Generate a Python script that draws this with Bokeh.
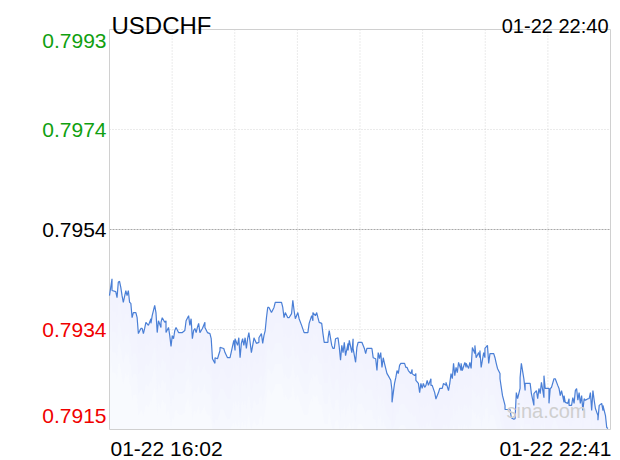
from bokeh.plotting import figure
from bokeh.models import Label, Range1d
from bokeh.embed import file_html
from bokeh.resources import INLINE

symbol = "USDCHF"
update_time = "01-22 22:40"
start_label = "01-22 16:02"
end_label = "01-22 22:41"
watermark = "sina.com"
session_len = 399          # minutes from 16:02 to 22:41
prev_close = 0.7954
y_ticks = [0.7915, 0.79345, 0.7954, 0.79735, 0.7993]
y_tick_labels = ["0.7915", "0.7934", "0.7954", "0.7974", "0.7993"]

minutes = [0, 2, 2, 5, 6, 7, 8, 9, 10, 11, 13, 14, 15, 16, 17, 18, 19, 21, 22, 23,
           25, 26, 27, 28, 29, 31, 33, 33, 34, 36, 37, 38, 39, 41, 41, 42, 44, 45, 45, 47,
           48, 49, 50, 51, 52, 53, 55, 58, 60, 61, 63, 64, 65, 66, 67, 68, 69, 70, 71, 72,
           74, 76, 76, 78, 80, 81, 82, 84, 84, 86, 88, 88, 91, 92, 94, 96,
           99, 100, 100, 102, 103, 104, 105, 106, 107, 108, 109, 110, 111, 112, 113, 115, 115, 117, 119, 119,
           121, 122, 123, 124, 125, 126, 127, 129, 131, 132, 137, 138, 139, 140, 142, 143, 145, 146, 147, 148,
           150, 151, 153, 155, 158, 159, 161, 162, 162, 164, 165, 166, 167, 169, 170, 171, 174, 174, 175, 177,
           178, 179, 180, 182, 183, 184, 185, 186, 187, 188, 190, 190, 191, 193, 194, 194, 196, 197, 198, 200,
           201, 203, 204, 205, 209, 210, 212, 213, 214, 215, 216, 217, 218, 219, 221, 222, 224, 225, 225, 227,
           228, 229, 230, 231, 232, 235, 236, 237, 238, 240, 241, 241, 243, 244, 244, 246, 247, 248, 249, 250,
           251, 252, 253, 254, 256, 256, 257, 259, 260, 260, 262, 263, 265, 266, 268, 268, 270, 271, 272, 273,
           274, 275, 276, 277, 278, 280, 280, 281, 283, 284, 284, 286, 287, 288, 289, 291, 291, 292, 294, 295,
           295, 296, 298, 299, 299, 301, 302, 303, 306, 307, 308, 309, 311, 311, 313, 315, 315, 319, 320, 322,
           323, 324, 325, 327, 327, 328, 330, 331, 331, 335, 336, 338, 338, 340, 341, 342, 343, 344, 346, 346,
           347, 350, 350, 351, 352, 354, 355, 357, 358, 359, 360, 362, 362, 363, 365, 366, 366, 368, 369, 370,
           371, 372, 373, 374, 375, 376, 377, 378, 379, 381, 382, 383, 384, 385, 386, 387, 389, 389, 390, 392,
           393, 393, 395, 396, 397]

prices = [0.79411, 0.79444, 0.79421, 0.79419, 0.79407, 0.79437, 0.79439, 0.79427, 0.79411, 0.79398,
          0.79421, 0.79411, 0.79421, 0.79398, 0.79396, 0.79368, 0.79378, 0.79378, 0.79368, 0.79337,
          0.79347, 0.79347, 0.79337, 0.79347, 0.79359, 0.79353, 0.79366, 0.79357, 0.79372, 0.79392,
          0.79378, 0.79339, 0.79362, 0.79349, 0.79359, 0.79368, 0.79359, 0.79362, 0.79339, 0.79349,
          0.79333, 0.79312, 0.79333, 0.79327, 0.79343, 0.79349, 0.79339, 0.79339, 0.79343, 0.79362,
          0.79372, 0.79353, 0.79366, 0.79327, 0.79343, 0.79347, 0.79339, 0.79349, 0.79357, 0.79339,
          0.79347, 0.79359, 0.79349, 0.79339, 0.79337, 0.79327, 0.79288, 0.79279, 0.79290, 0.79288,
          0.79304, 0.79310, 0.79308, 0.79300, 0.79290, 0.79290,
          0.79324, 0.79304, 0.79327, 0.79314, 0.79329, 0.79290, 0.79318, 0.79327, 0.79314, 0.79329,
          0.79308, 0.79327, 0.79339, 0.79320, 0.79300, 0.79327, 0.79329, 0.79318, 0.79320, 0.79329,
          0.79337, 0.79318, 0.79333, 0.79343, 0.79368, 0.79388, 0.79388, 0.79378, 0.79388, 0.79398,
          0.79398, 0.79388, 0.79368, 0.79378, 0.79368, 0.79368, 0.79376, 0.79402, 0.79382, 0.79366,
          0.79378, 0.79366, 0.79353, 0.79339, 0.79339, 0.79357, 0.79372, 0.79362, 0.79378, 0.79372,
          0.79378, 0.79368, 0.79359, 0.79357, 0.79337, 0.79320, 0.79320, 0.79327, 0.79343, 0.79314,
          0.79308, 0.79308, 0.79327, 0.79329, 0.79310, 0.79285, 0.79314, 0.79300, 0.79320, 0.79294,
          0.79318, 0.79304, 0.79324, 0.79300, 0.79327, 0.79308, 0.79281, 0.79310, 0.79320, 0.79320,
          0.79320, 0.79308, 0.79298, 0.79308, 0.79308, 0.79290, 0.79288, 0.79265, 0.79300, 0.79288,
          0.79300, 0.79271, 0.79290, 0.79279, 0.79259, 0.79255, 0.79246, 0.79226, 0.79203, 0.79240,
          0.79251, 0.79265, 0.79259, 0.79275, 0.79279, 0.79279, 0.79271, 0.79271, 0.79265, 0.79259,
          0.79267, 0.79259, 0.79255, 0.79259, 0.79246, 0.79240, 0.79222, 0.79240, 0.79230, 0.79240,
          0.79232, 0.79236, 0.79246, 0.79236, 0.79249, 0.79236, 0.79236, 0.79222, 0.79209, 0.79210,
          0.79222, 0.79230, 0.79230, 0.79240, 0.79236, 0.79242, 0.79226, 0.79240, 0.79259, 0.79249,
          0.79279, 0.79255, 0.79271, 0.79261, 0.79281, 0.79265, 0.79279, 0.79265, 0.79281, 0.79271,
          0.79279, 0.79269, 0.79281, 0.79269, 0.79310, 0.79298, 0.79314, 0.79290, 0.79300, 0.79290,
          0.79304, 0.79271, 0.79300, 0.79290, 0.79308, 0.79314, 0.79279, 0.79298, 0.79298, 0.79290,
          0.79279, 0.79269, 0.79259, 0.79249, 0.79216, 0.79197, 0.79189, 0.79189, 0.79173, 0.79170,
          0.79171, 0.79222, 0.79210, 0.79230, 0.79251, 0.79279, 0.79249, 0.79226, 0.79240, 0.79240,
          0.79220, 0.79197, 0.79220, 0.79226, 0.79210, 0.79230, 0.79220, 0.79242, 0.79212, 0.79255,
          0.79230, 0.79230, 0.79201, 0.79230, 0.79232, 0.79249, 0.79249, 0.79236, 0.79230, 0.79216,
          0.79226, 0.79203, 0.79216, 0.79203, 0.79201, 0.79210, 0.79197, 0.79197, 0.79212, 0.79201,
          0.79226, 0.79230, 0.79207, 0.79222, 0.79201, 0.79216, 0.79187, 0.79210, 0.79207, 0.79210,
          0.79210, 0.79222, 0.79187, 0.79226, 0.79207, 0.79191, 0.79177, 0.79168, 0.79197, 0.79201,
          0.79187, 0.79197, 0.79177, 0.79154, 0.79152]

FONT = "Liberation Sans"
GREEN = "#10a010"
RED = "#f00000"
LINE = "#4a7fd6"

# layout (pixels): the whole canvas is the frame, the chart box is drawn inside it
W, H = 620, 460
BOX_L, BOX_R, BOX_T, BOX_B = 109, 610, 29, 429
y_lo, y_hi = y_ticks[0], y_ticks[-1]
xpp = session_len / (BOX_R - BOX_L)
ypp = (y_hi - y_lo) / (BOX_B - BOX_T)

p = figure(width=W, height=H, output_backend="svg", toolbar_location=None,
           x_range=Range1d(-BOX_L * xpp, session_len + (W - BOX_R) * xpp),
           y_range=Range1d(y_lo - (H - BOX_B) * ypp, y_hi + BOX_T * ypp),
           min_border=0, min_border_left=0, min_border_right=0,
           min_border_top=0, min_border_bottom=0)
p.axis.visible = False
p.grid.visible = False
p.outline_line_color = None
p.background_fill_color = "white"
p.border_fill_color = "white"

# grid
vx = [session_len * k / 8 for k in range(1, 8)]
p.segment(x0=vx, y0=[y_lo] * len(vx), x1=vx, y1=[y_hi] * len(vx),
          line_color="#d6d6d6", line_dash="1 2", line_width=1)
hy = [y_ticks[1], y_ticks[3]]
p.segment(x0=[0, 0], y0=hy, x1=[session_len] * 2, y1=hy,
          line_color="#d6d6d6", line_dash="1 2", line_width=1)
p.segment(x0=[0], y0=[prev_close], x1=[session_len], y1=[prev_close],
          line_color="#a8a8a8", line_dash="2 1", line_width=1)

# area under the line: pale base plus a few bands hugging the line for a soft fade
p.varea(x=minutes, y1=[y_lo] * len(minutes), y2=prices, fill_color="#f8fafe", fill_alpha=1.0)
for k in range(1, 5):
    band = 0.0004 * k
    p.varea(x=minutes, y1=[max(y_lo, v - band) for v in prices], y2=prices,
            fill_color="#e4ecfb", fill_alpha=0.09)

# chart box
p.quad(left=[0], right=[session_len], bottom=[y_lo], top=[y_hi],
       fill_color=None, line_color="#d0d0d0", line_width=1)

p.line(minutes, prices, line_color=LINE, line_width=1.2)

def lab(text, x, y, **kw):
    opts = dict(text_font=FONT, text_font_size="21px", text_color="black")
    opts.update(kw)
    p.add_layout(Label(x=x, y=y, text=text, **opts))

# y labels
colors = [RED, RED, "black", GREEN, GREEN]
for i, (v, t) in enumerate(zip(y_ticks, y_tick_labels)):
    off = 0
    if i == 0:
        off = 14
    elif i == len(y_ticks) - 1:
        off = -11
    lab(t, 0, v, x_offset=-3, y_offset=off, text_align="right", text_baseline="middle",
        text_color=colors[i])

# x labels
lab(start_label, 0, y_lo, x_offset=1, y_offset=-19, text_align="left", text_baseline="middle")
lab(end_label, session_len, y_lo, x_offset=1, y_offset=-19, text_align="right", text_baseline="middle")

# header
lab(symbol, 0, y_hi, x_offset=2, y_offset=4, text_align="left", text_baseline="alphabetic",
    text_font_size="24px")
lab(update_time, session_len, y_hi, x_offset=-2, y_offset=4, text_align="right",
    text_baseline="alphabetic", text_font_size="20px")

# watermark
lab(watermark, 348, y_lo, y_offset=19, text_align="center", text_baseline="middle",
    text_font_size="20px", text_color="#cfcfcf")

open("out.html", "w").write(file_html(p, INLINE))
